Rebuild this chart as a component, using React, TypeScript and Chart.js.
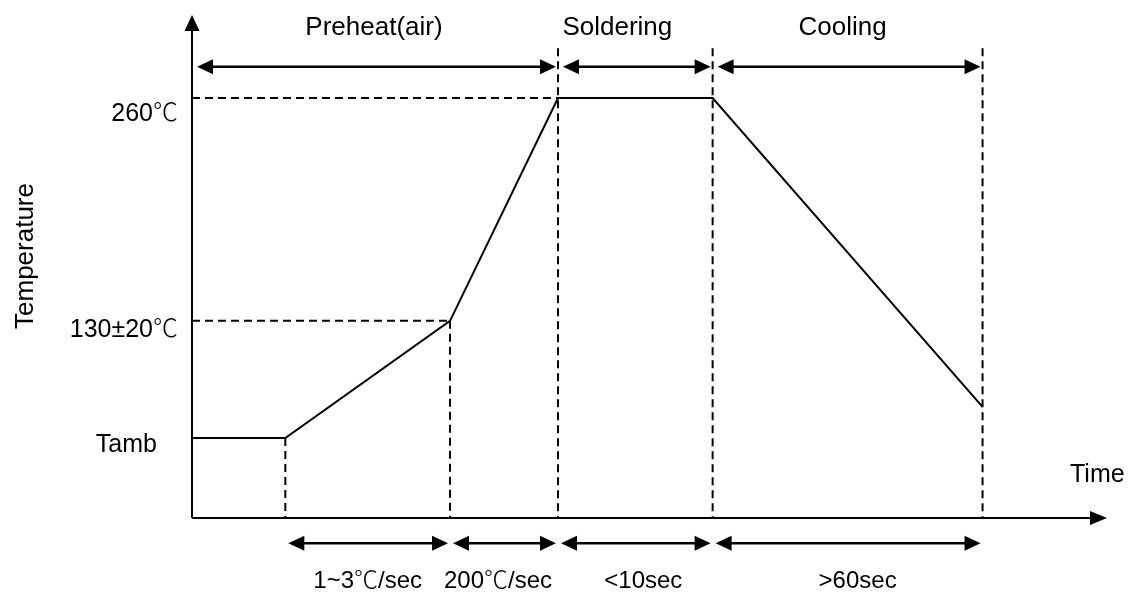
import React, { useEffect, useRef } from "react";
import { Chart, registerables } from "chart.js";

Chart.register(...registerables);

// Diagram coordinates: time and temperature in schematic units (0–100 on each axis)
const profileTime = [0, 10.2, 28.2, 40.0, 56.9, 86.4];
const profileTemp = [15.9, 15.9, 39.2, 83.5, 83.5, 22.1];

const levelValues = [83.5, 39.2, 15.9];
const levelLabels = ["260℃", "130±20℃", "Tamb"];

const phaseBounds = [0, 40.0, 56.9, 86.4];
const phaseLabels = ["Preheat(air)", "Soldering", "Cooling"];

const stepBounds = [10.2, 28.2, 40.0, 56.9, 86.4];
const stepLabels = ["1~3℃/sec", "200℃/sec", "<10sec", ">60sec"];

const guideTop = 93.4;
const phaseArrowLevel = 89.7;
const stepArrowLevel = -5.0;
const axisTitles = ["Time", "Temperature"];

const LATIN = "'Liberation Sans', Arial, sans-serif";
const CJK = "'Noto Sans CJK SC', 'Noto Sans CJK JP', sans-serif";

function richText(ctx: CanvasRenderingContext2D, text: string, x: number, y: number, align: string, size: number) {
  const runs: { t: string; cjk: boolean }[] = [];
  for (const ch of Array.from(text)) {
    const cjk = ch === "℃";
    const last = runs[runs.length - 1];
    if (last && last.cjk === cjk) last.t += ch;
    else runs.push({ t: ch, cjk });
  }
  const widths = runs.map((r) => {
    ctx.font = `${r.cjk ? 300 : 400} ${size}px ${r.cjk ? CJK : LATIN}`;
    return ctx.measureText(r.t).width;
  });
  const total = widths.reduce((a, b) => a + b, 0);
  let cx = align === "center" ? x - total / 2 : align === "right" ? x - total : x;
  ctx.textAlign = "left";
  runs.forEach((r, i) => {
    ctx.font = `${r.cjk ? 300 : 400} ${size}px ${r.cjk ? CJK : LATIN}`;
    ctx.fillText(r.t, cx, y);
    cx += widths[i];
  });
}

function head(ctx: CanvasRenderingContext2D, tx: number, ty: number, dx: number, dy: number, len: number, half: number) {
  const bx = tx - dx * len;
  const by = ty - dy * len;
  const px = -dy;
  const py = dx;
  ctx.beginPath();
  ctx.moveTo(tx, ty);
  ctx.lineTo(bx + px * half, by + py * half);
  ctx.lineTo(bx - px * half, by - py * half);
  ctx.closePath();
  ctx.fill();
}

function doubleArrow(ctx: CanvasRenderingContext2D, a: number, b: number, yy: number) {
  ctx.beginPath();
  ctx.moveTo(a + 10, yy);
  ctx.lineTo(b - 10, yy);
  ctx.stroke();
  head(ctx, a, yy, -1, 0, 16, 7.5);
  head(ctx, b, yy, 1, 0, 16, 7.5);
}

const diagramPlugin = {
  id: "diagram",
  afterDatasetsDraw(chart: any) {
    const { ctx, chartArea, scales } = chart;
    const X = (v: number) => scales.x.getPixelForValue(v);
    const Y = (v: number) => scales.y.getPixelForValue(v);
    ctx.save();
    ctx.strokeStyle = "#000";
    ctx.fillStyle = "#000";
    ctx.lineWidth = 2;
    const x0 = X(0);
    const y0 = Y(0);
    // axes
    ctx.beginPath();
    ctx.moveTo(x0, y0);
    ctx.lineTo(x0, chartArea.top + 12);
    ctx.moveTo(x0, y0);
    ctx.lineTo(chartArea.right - 14, y0);
    ctx.stroke();
    head(ctx, x0, chartArea.top, 0, -1, 16, 7.5);
    head(ctx, chartArea.right, y0, 1, 0, 17, 7);

    // phase arrows (top)
    const ty = Y(phaseArrowLevel);
    ctx.lineWidth = 2.5;
    for (let i = 0; i < phaseBounds.length - 1; i++) {
      doubleArrow(ctx, X(phaseBounds[i]) + 5, X(phaseBounds[i + 1]) - 2, ty);
    }
    // step arrows (bottom)
    const by = Y(stepArrowLevel);
    for (let i = 0; i < stepBounds.length - 1; i++) {
      doubleArrow(ctx, X(stepBounds[i]) + 3, X(stepBounds[i + 1]) - 2, by);
    }

    ctx.textBaseline = "alphabetic";
    const phaseShift = [-1, -18, -5];
    for (let i = 0; i < phaseLabels.length; i++) {
      const cx = (X(phaseBounds[i]) + X(phaseBounds[i + 1])) / 2 + phaseShift[i];
      richText(ctx, phaseLabels[i], cx, ty - 32, "center", 26);
    }
    const stepShift = [0, -6, 8, 10];
    for (let i = 0; i < stepLabels.length; i++) {
      const cx = (X(stepBounds[i]) + X(stepBounds[i + 1])) / 2 + stepShift[i];
      richText(ctx, stepLabels[i], cx, by + 45, "center", 24);
    }
    // level labels
    const levelRight = [14, 14, 35];
    const levelBase = [23, 16, 14];
    for (let i = 0; i < levelLabels.length; i++) {
      richText(ctx, levelLabels[i], x0 - levelRight[i], Y(levelValues[i]) + levelBase[i], "right", 25);
    }
    // axis titles
    richText(ctx, axisTitles[0], chartArea.right - 37, y0 - 36, "left", 25);
    ctx.save();
    ctx.translate(33, 256);
    ctx.rotate(-Math.PI / 2);
    richText(ctx, axisTitles[1], 0, 0, "center", 26);
    ctx.restore();
    ctx.restore();
  },
};

function seg(x1: number, y1: number, x2: number, y2: number) {
  return {
    data: [
      { x: x1, y: y1 },
      { x: x2, y: y2 },
    ],
    borderColor: "#000",
    borderWidth: 2,
    borderDash: [8, 5],
    pointRadius: 0,
    showLine: true,
    clip: false as const,
  };
}

export default function App() {
  const ref = useRef<HTMLCanvasElement | null>(null);
  useEffect(() => {
    if (!ref.current) return;
    const guides = [
      seg(0, profileTemp[3], profileTime[3], profileTemp[3]),
      seg(0, profileTemp[2], profileTime[2], profileTemp[2]),
      seg(profileTime[1], profileTemp[1], profileTime[1], 0),
      seg(profileTime[2], profileTemp[2], profileTime[2], 0),
      ...phaseBounds.slice(1).map((b) => seg(b, guideTop, b, 0)),
    ];
    const chart = new Chart(ref.current, {
      type: "scatter",
      data: {
        datasets: [
          {
            data: profileTime.map((t, i) => ({ x: t, y: profileTemp[i] })),
            borderColor: "#000",
            borderWidth: 2,
            pointRadius: 0,
            showLine: true,
            tension: 0,
            clip: false,
          },
          ...guides,
        ] as any,
      },
      options: {
        animation: false,
        responsive: false,
        events: [],
        layout: { padding: { left: 192, right: 22, top: 15, bottom: 74 } },
        scales: {
          x: { type: "linear", min: 0, max: 100, display: false },
          y: { type: "linear", min: 0, max: 100, display: false },
        },
        plugins: { legend: { display: false }, tooltip: { enabled: false } },
      },
      plugins: [diagramPlugin],
    });
    return () => chart.destroy();
  }, []);
  return (
    <div style={{ position: "absolute", left: 0, top: 0, width: 1129, height: 592, background: "#fff" }}>
      <canvas ref={ref} width={1129} height={592} style={{ display: "block" }} />
    </div>
  );
}
